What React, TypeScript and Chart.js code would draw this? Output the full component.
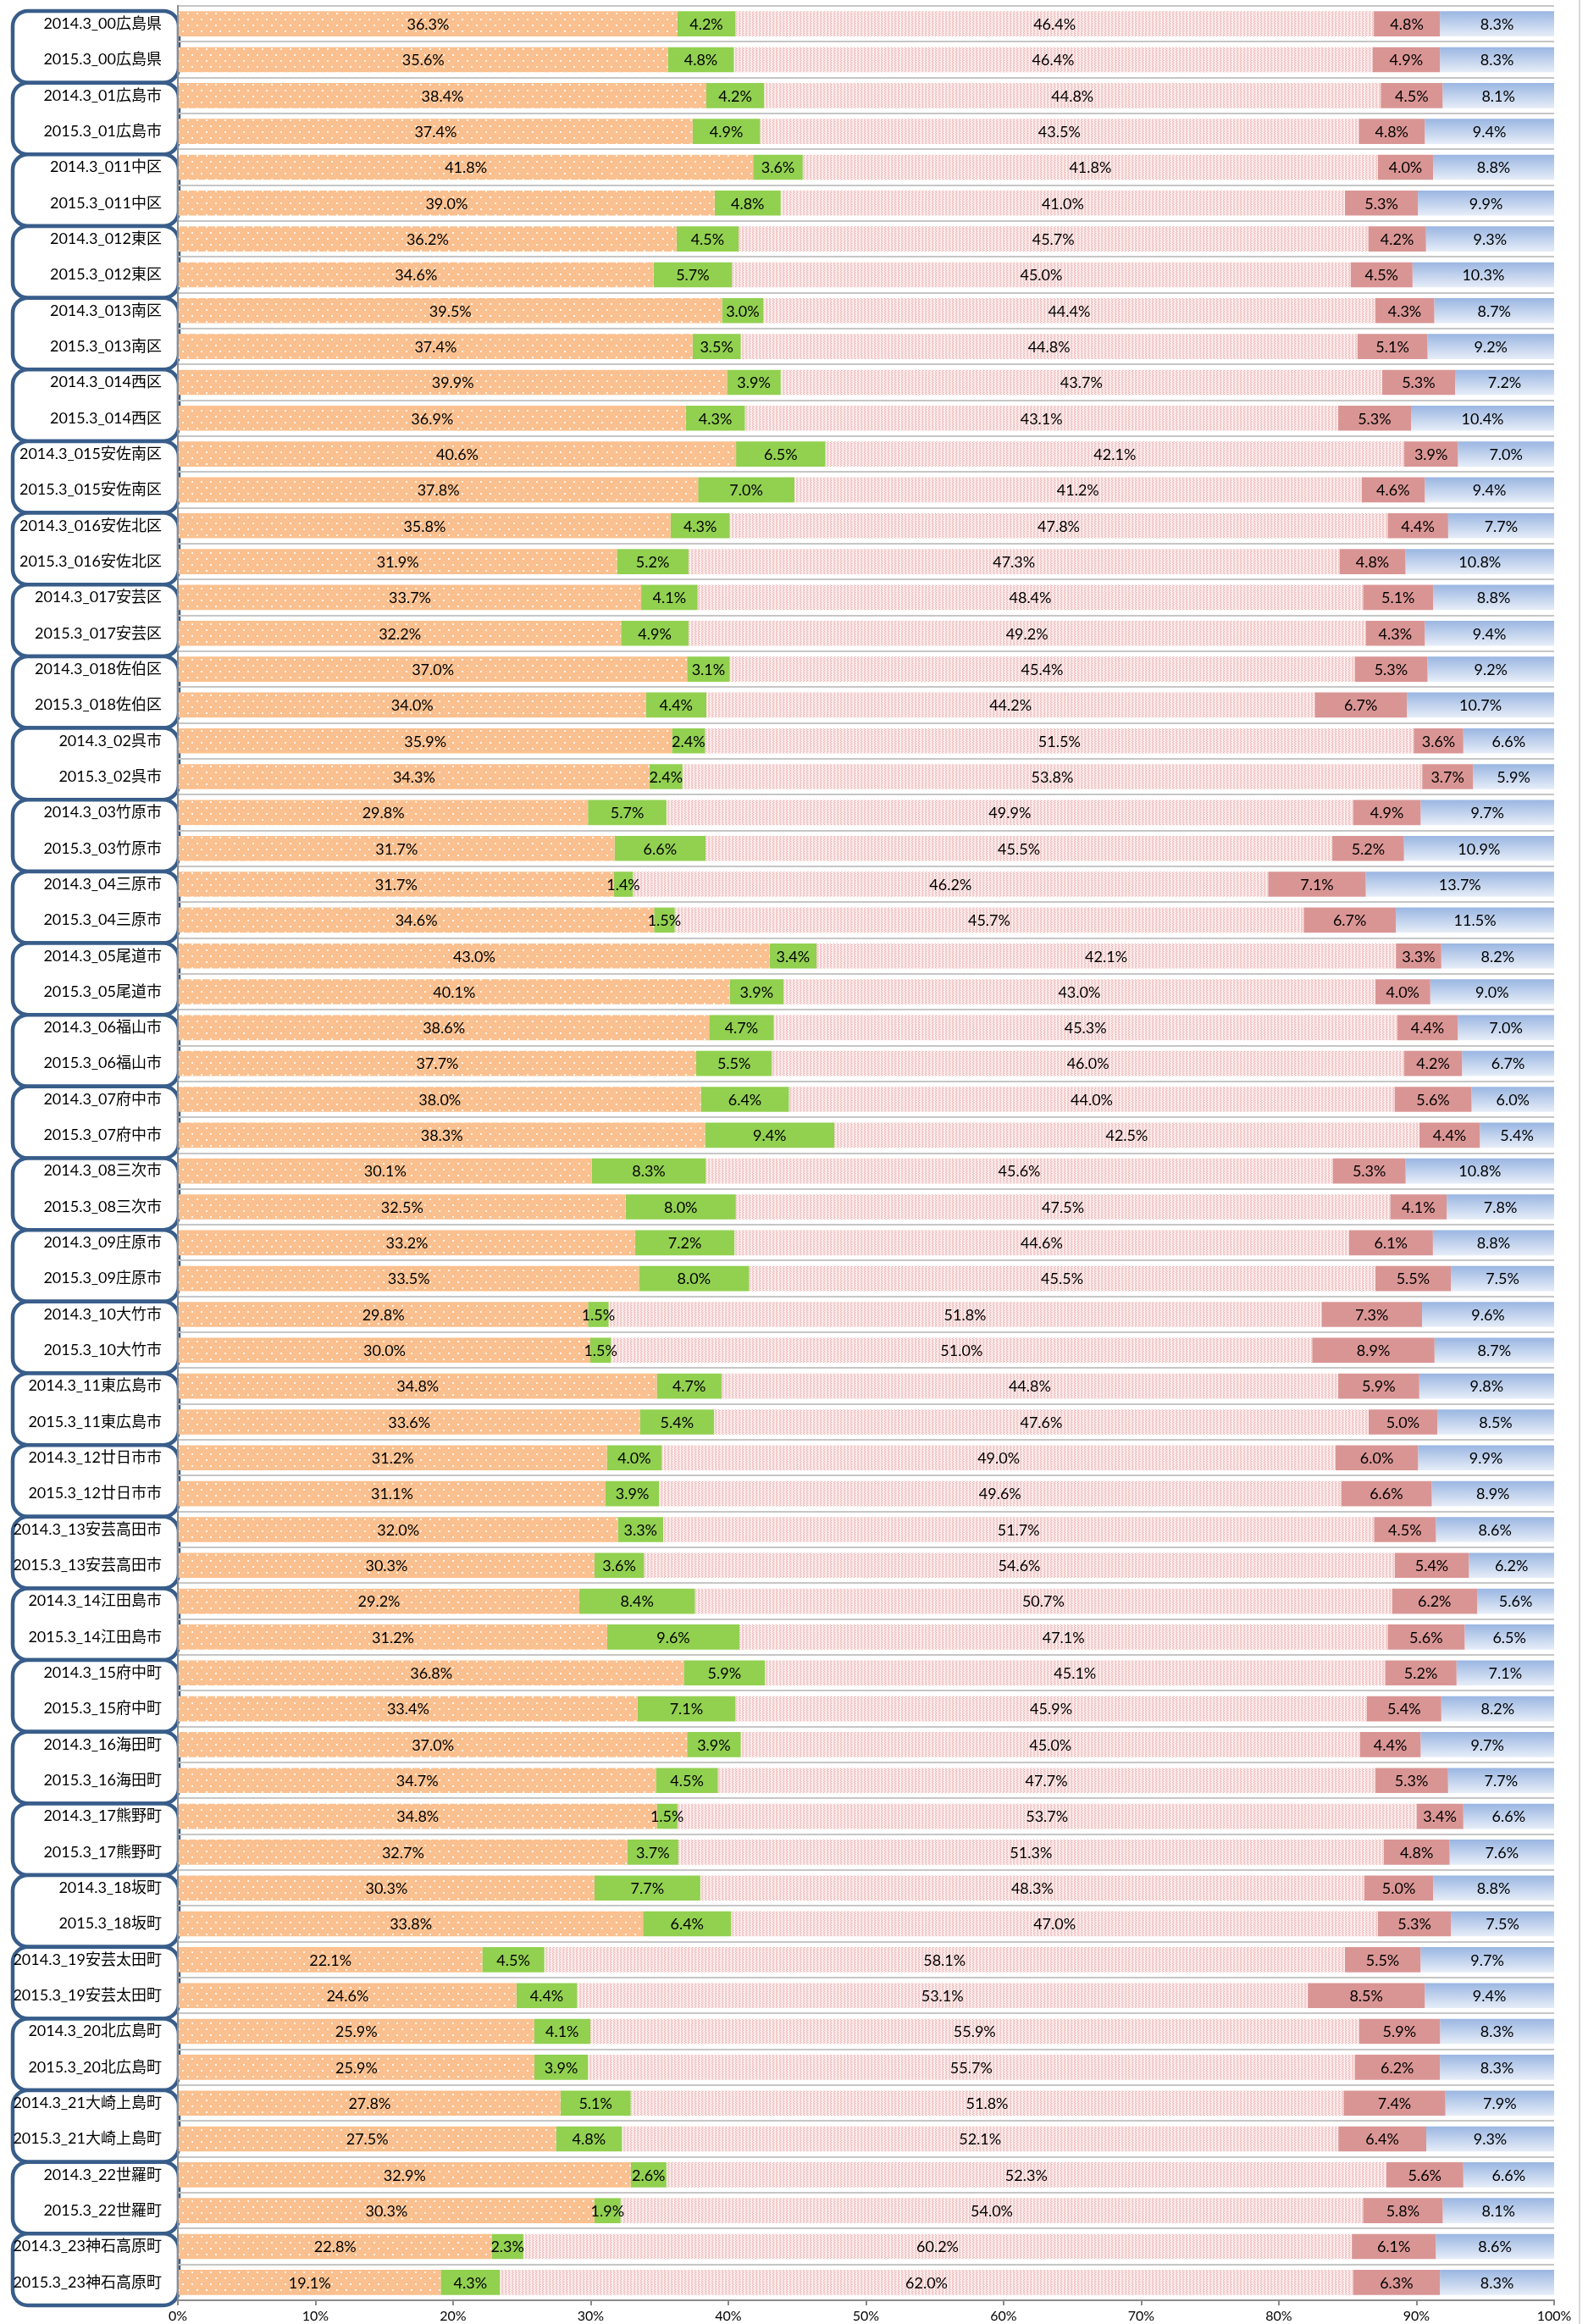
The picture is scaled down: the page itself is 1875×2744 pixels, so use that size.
import { useEffect, useRef } from 'react';
import { Chart, registerables } from 'chart.js';

Chart.register(...registerables);

const categories = [
  '2014.3_00広島県', '2015.3_00広島県',
  '2014.3_01広島市', '2015.3_01広島市',
  '2014.3_011中区', '2015.3_011中区',
  '2014.3_012東区', '2015.3_012東区',
  '2014.3_013南区', '2015.3_013南区',
  '2014.3_014西区', '2015.3_014西区',
  '2014.3_015安佐南区', '2015.3_015安佐南区',
  '2014.3_016安佐北区', '2015.3_016安佐北区',
  '2014.3_017安芸区', '2015.3_017安芸区',
  '2014.3_018佐伯区', '2015.3_018佐伯区',
  '2014.3_02呉市', '2015.3_02呉市',
  '2014.3_03竹原市', '2015.3_03竹原市',
  '2014.3_04三原市', '2015.3_04三原市',
  '2014.3_05尾道市', '2015.3_05尾道市',
  '2014.3_06福山市', '2015.3_06福山市',
  '2014.3_07府中市', '2015.3_07府中市',
  '2014.3_08三次市', '2015.3_08三次市',
  '2014.3_09庄原市', '2015.3_09庄原市',
  '2014.3_10大竹市', '2015.3_10大竹市',
  '2014.3_11東広島市', '2015.3_11東広島市',
  '2014.3_12廿日市市', '2015.3_12廿日市市',
  '2014.3_13安芸高田市', '2015.3_13安芸高田市',
  '2014.3_14江田島市', '2015.3_14江田島市',
  '2014.3_15府中町', '2015.3_15府中町',
  '2014.3_16海田町', '2015.3_16海田町',
  '2014.3_17熊野町', '2015.3_17熊野町',
  '2014.3_18坂町', '2015.3_18坂町',
  '2014.3_19安芸太田町', '2015.3_19安芸太田町',
  '2014.3_20北広島町', '2015.3_20北広島町',
  '2014.3_21大崎上島町', '2015.3_21大崎上島町',
  '2014.3_22世羅町', '2015.3_22世羅町',
  '2014.3_23神石高原町', '2015.3_23神石高原町',
];

// series 1 (orange, dotted)
const series1 = [
  36.3, 35.6, 38.4, 37.4, 41.8, 39.0, 36.2, 34.6, 39.5, 37.4,
  39.9, 36.9, 40.6, 37.8, 35.8, 31.9, 33.7, 32.2, 37.0, 34.0,
  35.9, 34.3, 29.8, 31.7, 31.7, 34.6, 43.0, 40.1, 38.6, 37.7,
  38.0, 38.3, 30.1, 32.5, 33.2, 33.5, 29.8, 30.0, 34.8, 33.6,
  31.2, 31.1, 32.0, 30.3, 29.2, 31.2, 36.8, 33.4, 37.0, 34.7,
  34.8, 32.7, 30.3, 33.8, 22.1, 24.6, 25.9, 25.9, 27.8, 27.5,
  32.9, 30.3, 22.8, 19.1,
];
// series 2 (green)
const series2 = [
  4.2, 4.8, 4.2, 4.9, 3.6, 4.8, 4.5, 5.7, 3.0, 3.5,
  3.9, 4.3, 6.5, 7.0, 4.3, 5.2, 4.1, 4.9, 3.1, 4.4,
  2.4, 2.4, 5.7, 6.6, 1.4, 1.5, 3.4, 3.9, 4.7, 5.5,
  6.4, 9.4, 8.3, 8.0, 7.2, 8.0, 1.5, 1.5, 4.7, 5.4,
  4.0, 3.9, 3.3, 3.6, 8.4, 9.6, 5.9, 7.1, 3.9, 4.5,
  1.5, 3.7, 7.7, 6.4, 4.5, 4.4, 4.1, 3.9, 5.1, 4.8,
  2.6, 1.9, 2.3, 4.3,
];
// series 3 (pink, patterned)
const series3 = [
  46.4, 46.4, 44.8, 43.5, 41.8, 41.0, 45.7, 45.0, 44.4, 44.8,
  43.7, 43.1, 42.1, 41.2, 47.8, 47.3, 48.4, 49.2, 45.4, 44.2,
  51.5, 53.8, 49.9, 45.5, 46.2, 45.7, 42.1, 43.0, 45.3, 46.0,
  44.0, 42.5, 45.6, 47.5, 44.6, 45.5, 51.8, 51.0, 44.8, 47.6,
  49.0, 49.6, 51.7, 54.6, 50.7, 47.1, 45.1, 45.9, 45.0, 47.7,
  53.7, 51.3, 48.3, 47.0, 58.1, 53.1, 55.9, 55.7, 51.8, 52.1,
  52.3, 54.0, 60.2, 62.0,
];
// series 4 (red)
const series4 = [
  4.8, 4.9, 4.5, 4.8, 4.0, 5.3, 4.2, 4.5, 4.3, 5.1,
  5.3, 5.3, 3.9, 4.6, 4.4, 4.8, 5.1, 4.3, 5.3, 6.7,
  3.6, 3.7, 4.9, 5.2, 7.1, 6.7, 3.3, 4.0, 4.4, 4.2,
  5.6, 4.4, 5.3, 4.1, 6.1, 5.5, 7.3, 8.9, 5.9, 5.0,
  6.0, 6.6, 4.5, 5.4, 6.2, 5.6, 5.2, 5.4, 4.4, 5.3,
  3.4, 4.8, 5.0, 5.3, 5.5, 8.5, 5.9, 6.2, 7.4, 6.4,
  5.6, 5.8, 6.1, 6.3,
];
// series 5 (blue gradient)
const series5 = [
  8.3, 8.3, 8.1, 9.4, 8.8, 9.9, 9.3, 10.3, 8.7, 9.2,
  7.2, 10.4, 7.0, 9.4, 7.7, 10.8, 8.8, 9.4, 9.2, 10.7,
  6.6, 5.9, 9.7, 10.9, 13.7, 11.5, 8.2, 9.0, 7.0, 6.7,
  6.0, 5.4, 10.8, 7.8, 8.8, 7.5, 9.6, 8.7, 9.8, 8.5,
  9.9, 8.9, 8.6, 6.2, 5.6, 6.5, 7.1, 8.2, 9.7, 7.7,
  6.6, 7.6, 8.8, 7.5, 9.7, 9.4, 8.3, 8.3, 7.9, 9.3,
  6.6, 8.1, 8.6, 8.3,
];

const xTicks = [0, 10, 20, 30, 40, 50, 60, 70, 80, 90, 100];

const allSeries = [series1, series2, series3, series4, series5];
const totals = categories.map((_, i) => allSeries.reduce((s, arr) => s + arr[i], 0));
const normalize = (arr: number[]) => arr.map((v, i) => (v / totals[i]) * 100);

const FONT = 'Lato, "Noto Sans CJK JP", sans-serif';

function makeOrangePattern(): CanvasPattern | string {
  const c = document.createElement('canvas');
  c.width = 11;
  c.height = 14;
  const g = c.getContext('2d');
  if (!g) return '#FAC08F';
  g.fillStyle = '#FAC08F';
  g.fillRect(0, 0, 11, 14);
  g.fillStyle = 'rgba(255,255,255,0.85)';
  g.fillRect(1, 1, 2, 2);
  g.fillRect(6, 8, 2, 2);
  return g.createPattern(c, 'repeat') || '#FAC08F';
}

function makePinkPattern(): CanvasPattern | string {
  const c = document.createElement('canvas');
  c.width = 4;
  c.height = 4;
  const g = c.getContext('2d');
  if (!g) return '#F6D9D9';
  g.fillStyle = '#FDF2F2';
  g.fillRect(0, 0, 4, 4);
  g.fillStyle = '#EBAAAA';
  g.fillRect(0, 0, 1, 1);
  g.fillRect(1, 1, 1, 1);
  g.fillRect(0, 2, 1, 1);
  g.fillRect(1, 3, 1, 1);
  g.fillStyle = '#F5CFCF';
  g.fillRect(2, 1, 1, 1);
  g.fillRect(2, 3, 1, 1);
  return g.createPattern(c, 'repeat') || '#F6D9D9';
}

const boxPlugin = {
  id: 'pairBoxes',
  beforeDraw(chart: any) {
    const ctx = chart.ctx;
    ctx.save();
    ctx.fillStyle = '#ffffff';
    ctx.fillRect(0, 0, chart.width, chart.height);
    ctx.strokeStyle = '#d9d9d9';
    ctx.lineWidth = 2;
    ctx.beginPath();
    ctx.moveTo(1865, 0);
    ctx.lineTo(1865, chart.height);
    ctx.stroke();

    const y = chart.scales.y;
    const step = (y.bottom - y.top) / categories.length;
    const left = 15;
    const right = 211;
    const r = 18;
    for (let p = 0; p < categories.length / 2; p++) {
      const top = y.top + p * 2 * step + 6;
      const h = 2 * step;
      ctx.beginPath();
      ctx.moveTo(left + r, top);
      ctx.lineTo(right - r, top);
      ctx.arcTo(right, top, right, top + r, r);
      ctx.lineTo(right, top + h - r);
      ctx.arcTo(right, top + h, right - r, top + h, r);
      ctx.lineTo(left + r, top + h);
      ctx.arcTo(left, top + h, left, top + h - r, r);
      ctx.lineTo(left, top + r);
      ctx.arcTo(left, top, left + r, top, r);
      ctx.closePath();
      ctx.fillStyle = '#ffffff';
      ctx.fill();
      ctx.strokeStyle = '#385D8A';
      ctx.lineWidth = 4.5;
      ctx.stroke();
    }
    ctx.restore();
  },
};

const labelPlugin = {
  id: 'segLabels',
  afterDatasetsDraw(chart: any) {
    const ctx = chart.ctx;
    ctx.save();
    ctx.font = `18px ${FONT}`;
    ctx.fillStyle = '#000000';
    ctx.textAlign = 'center';
    ctx.textBaseline = 'middle';
    chart.data.datasets.forEach((ds: any, di: number) => {
      const meta = chart.getDatasetMeta(di);
      const raw = allSeries[di];
      meta.data.forEach((el: any, i: number) => {
        const cx = (el.x + el.base) / 2;
        ctx.fillText(raw[i].toFixed(1) + '%', cx, el.y + 1);
      });
    });
    ctx.restore();
  },
};

export default function App() {
  const ref = useRef<HTMLCanvasElement | null>(null);

  useEffect(() => {
    document.body.style.margin = '0';
    const canvas = ref.current;
    if (!canvas) return;
    const orange = makeOrangePattern();
    const pink = makePinkPattern();
    const blue = (ctx: any) => {
      const chart = ctx.chart;
      const ys = chart.scales && chart.scales.y;
      if (!chart.chartArea || !ys || ctx.dataIndex === undefined) return '#B9CCEA';
      const step = (ys.bottom - ys.top) / categories.length;
      const c = ys.getPixelForValue(ctx.dataIndex);
      const h = (step * 0.7) / 2;
      const g = chart.ctx.createLinearGradient(0, c - h, 0, c + h);
      g.addColorStop(0, '#9AB6E2');
      g.addColorStop(1, '#E6EDF8');
      return g;
    };

    const chart = new Chart(canvas, {
      type: 'bar',
      data: {
        labels: categories,
        datasets: [
          { label: 's1', data: normalize(series1), backgroundColor: orange as any },
          { label: 's2', data: normalize(series2), backgroundColor: '#92D050' },
          { label: 's3', data: normalize(series3), backgroundColor: pink as any },
          { label: 's4', data: normalize(series4), backgroundColor: '#D99594' },
          { label: 's5', data: normalize(series5), backgroundColor: blue as any },
        ],
      },
      options: {
        indexAxis: 'y',
        responsive: false,
        animation: false,
        devicePixelRatio: 1,
        layout: { padding: { top: 7, right: 40, bottom: 0, left: 0 } },
        datasets: {
          bar: { barPercentage: 0.7, categoryPercentage: 1.0, borderWidth: 0 },
        },
        plugins: {
          legend: { display: false },
          tooltip: { enabled: false },
        },
        scales: {
          x: {
            stacked: true,
            min: 0,
            max: 100,
            afterBuildTicks: (s: any) => {
              s.ticks = xTicks.map((v) => ({ value: v }));
            },
            ticks: {
              callback: (v: any) => v + '%',
              font: { family: FONT, size: 16 },
              color: '#000000',
              padding: 3,
            },
            grid: {
              drawOnChartArea: false,
              drawTicks: true,
              tickLength: 6,
              color: '#8c8c8c',
              lineWidth: 2,
            },
            border: { display: true, color: '#8c8c8c', width: 2 },
            afterFit: (s: any) => {
              s.height = 28;
            },
          },
          y: {
            stacked: true,
            grid: {
              offset: true,
              drawTicks: false,
              color: '#c6c6c6',
              lineWidth: 2,
            },
            border: { display: true, color: '#8c8c8c', width: 2 },
            ticks: {
              autoSkip: false,
              font: { family: FONT, size: 18 },
              color: '#000000',
              padding: 19,
            },
            afterFit: (s: any) => {
              s.width = 210;
              s.paddingTop = 0;
              s.paddingBottom = 0;
            },
          },
        },
      },
      plugins: [boxPlugin, labelPlugin],
    });
    return () => chart.destroy();
  }, []);

  return (
    <div style={{ width: 1875, height: 2744, position: 'relative' }}>
      <canvas ref={ref} width={1875} height={2744} />
    </div>
  );
}
